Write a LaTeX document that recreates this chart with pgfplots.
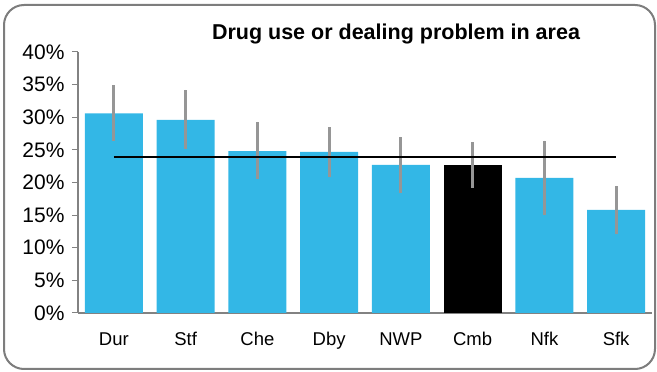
\documentclass[border=0pt]{standalone}
\usepackage{pgfplots}
\pgfplotsset{compat=1.18}
\usepackage{fontspec}
\setmainfont{Liberation Sans}
\definecolor{barblue}{RGB}{51,183,230}
\definecolor{errgray}{RGB}{150,150,150}
\definecolor{framegray}{RGB}{125,125,125}
\definecolor{axgray}{RGB}{130,130,130}
\begin{document}
\begin{tikzpicture}[x=1pt,y=1pt]
\path (0,0) rectangle (657,372);
\draw[framegray, line width=2pt, rounded corners=20pt] (4,3) rectangle (655,367);
\node[font=\bfseries\fontsize{21.5}{25}\selectfont] at (396,338) {Drug use or dealing problem in area};
\begin{axis}[
  at={(78pt,59pt)}, anchor=south west,
  scale only axis, width=574pt, height=261pt,
  xmin=-0.5, xmax=7.5, ymin=0, ymax=40,
  axis x line*=bottom, axis y line*=left,
  axis line style={-, draw=axgray, line width=1.2pt},
  ytick={0,5,...,40},
  yticklabels={0\%,5\%,10\%,15\%,20\%,25\%,30\%,35\%,40\%},
  xtick={0,...,7},
  xticklabels={Dur,Stf,Che,Dby,NWP,Cmb,Nfk,Sfk},
  x tick style={draw=none},
  y tick style={axgray, line width=1pt},
  tick align=outside, major tick length=6pt,
  yticklabel style={font=\fontsize{21}{24}\selectfont, xshift=-4pt},
  xticklabel style={font=\fontsize{18.5}{22}\selectfont, yshift=-10pt},
  ybar, bar width=58pt,
  error bars/error bar style={errgray, line width=2.8pt},
  clip=false,
]
\addplot[fill=barblue, draw=none, bar shift=0pt,
  error bars/.cd, y dir=both, y explicit, error mark=none]
  table[x=x, y=y, y error plus=ep, y error minus=em] {
x y ep em
0 30.6 4.3 4.2
1 29.6 4.6 4.5
2 24.8 4.5 4.3
3 24.7 3.8 3.9
4 22.7 4.3 4.3
6 20.7 5.7 5.7
7 15.8 3.7 3.7
};
\addplot[fill=black, draw=none, bar shift=0pt,
  error bars/.cd, y dir=both, y explicit, error mark=none]
  table[x=x, y=y, y error plus=ep, y error minus=em] {
x y ep em
5 22.7 3.5 3.5
};
\addplot[sharp plot, black, line width=2.8pt] coordinates {(0,23.9) (7,23.9)};
\end{axis}
\end{tikzpicture}
\end{document}
